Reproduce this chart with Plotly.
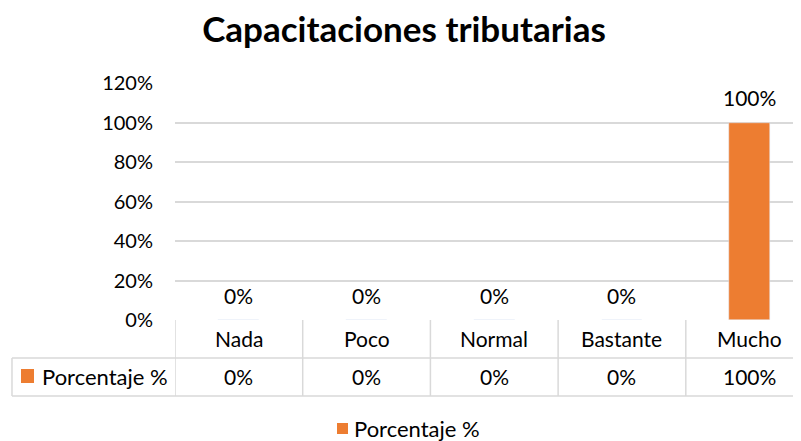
import plotly.graph_objects as go

# data
categorias = ["Nada", "Poco", "Normal", "Bastante", "Mucho"]
porcentaje = [0, 0, 0, 0, 1.0]
serie = "Porcentaje %"
titulo = "Capacitaciones tributarias"

naranja = "#ED7D31"
gris = "#D9D9D9"
fuente = "Lato"

# the page adds an 8px body margin, so the figure is 8px smaller
W, H = 793, 433

fig = go.Figure(go.Bar(
    x=list(range(len(categorias))), y=porcentaje, name=serie,
    marker_color=naranja, width=0.32, showlegend=False,
))

# data labels above bars
for i, v in enumerate(porcentaje):
    fig.add_annotation(x=i, y=v, text=f"{v:.0%}", showarrow=False,
                       yanchor="middle", yshift=25,
                       font=dict(size=21, color="black"))

# data table below the plot: row positions in paper units
fila1_top, fila1_bot, fila2_bot = 0, -0.1603, -0.3207
izq = -0.2604

for i, c in enumerate(categorias):
    fig.add_annotation(x=i, y=(fila1_top + fila1_bot) / 2, yref="paper",
                       yanchor="middle", text=c, showarrow=False,
                       font=dict(size=21, color="black"))
    fig.add_annotation(x=i, y=(fila1_bot + fila2_bot) / 2, yref="paper",
                       yanchor="middle", text=f"{porcentaje[i]:.0%}",
                       showarrow=False, font=dict(size=21, color="black"))
    # divider lines between categories
    fig.add_shape(type="line", xref="x", yref="paper", x0=i - 0.5, x1=i - 0.5,
                  y0=fila1_top, y1=fila2_bot, line=dict(color=gris, width=1.5))
fig.add_shape(type="line", xref="x", yref="paper", x0=len(categorias) - 0.5,
              x1=len(categorias) - 0.5, y0=fila1_top, y1=fila2_bot,
              line=dict(color=gris, width=1.5))

# horizontal rules of the table
for yy in [fila1_bot, fila2_bot]:
    fig.add_shape(type="line", xref="paper", yref="paper", x0=izq, x1=1.05,
                  y0=yy, y1=yy, line=dict(color=gris, width=1.5))
fig.add_shape(type="line", xref="paper", yref="paper", x0=izq, x1=izq,
              y0=fila1_bot, y1=fila2_bot, line=dict(color=gris, width=1.5))

# legend key inside table
fig.add_shape(type="rect", xref="paper", yref="paper", x0=-0.2460, x1=-0.2252,
              y0=-0.2068, y1=-0.2658, fillcolor=naranja, line_width=0)
fig.add_annotation(xref="paper", yref="paper", x=-0.2157, y=(fila1_bot + fila2_bot) / 2,
                   xanchor="left", yanchor="middle", text=serie, showarrow=False,
                   font=dict(size=22, color="black"))

# legend below the chart
fig.add_shape(type="rect", xref="paper", yref="paper", x0=0.2588, x1=0.2764,
              y0=-0.4346, y1=-0.4810, fillcolor=naranja, line_width=0)
fig.add_annotation(xref="paper", yref="paper", x=0.2827, y=-0.4557,
                   xanchor="left", yanchor="middle", text=serie, showarrow=False,
                   font=dict(size=22, color="black"))

fig.update_layout(
    width=W, height=H,
    margin=dict(l=167, r=0, t=75, b=121),
    paper_bgcolor="white", plot_bgcolor="white",
    font=dict(family=fuente, size=20, color="black"),
    title=dict(text="<b>" + titulo + "</b>", x=396 / W, xref="container",
               xanchor="center", y=1 - 22 / H, yanchor="middle",
               font=dict(size=35, color="black")),
    showlegend=False,
    bargap=0,
)
fig.update_xaxes(range=[-0.5, 4.402], showticklabels=False, showgrid=False,
                 zeroline=False, showline=False)
fig.update_yaxes(range=[0, 1.2], tickvals=[0, 0.2, 0.4, 0.6, 0.8, 1.0, 1.2],
                 tickformat=".0%", showgrid=True, gridcolor=gris, gridwidth=1.5,
                 zeroline=False, showline=False, ticks="outside", ticklen=17,
                 tickcolor="rgba(0,0,0,0)")

fig.write_html("out.html")
